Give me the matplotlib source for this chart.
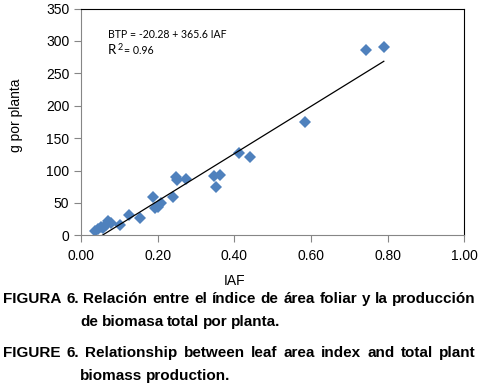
import numpy as np
import matplotlib.pyplot as plt

# datos
iaf = [0.037, 0.045, 0.052, 0.058, 0.065, 0.071, 0.077, 0.102, 0.124, 0.155,
       0.189, 0.193, 0.200, 0.208, 0.239, 0.247, 0.251, 0.273, 0.348, 0.352,
       0.362, 0.413, 0.441, 0.584, 0.743, 0.790]
btp = [6.7, 9.7, 13.4, 11.8, 16, 22, 18.6, 16, 31, 27,
       59, 42, 44, 49.5, 59, 90, 86, 87, 92, 75,
       93, 127, 121, 175, 286, 291]
intercept = -20.28
slope = 365.6
xticks = [0.0, 0.2, 0.4, 0.6, 0.8, 1.0]
yticks = [0, 50, 100, 150, 200, 250, 300, 350]

plt.rcParams['font.family'] = ['Liberation Sans', 'DejaVu Sans']

W, H = 478, 387
fig = plt.figure(figsize=(W/100, H/100), dpi=100)
ax = fig.add_axes([81/W, 1-235.3/H, (464.3-81)/W, (235.3-8.5)/H])

ax.plot(iaf, btp, 'D', color='#4F81BD', markersize=6.3, markeredgewidth=0)
x_line = np.array([-intercept/slope, max(iaf)])
ax.plot(x_line, intercept + slope*x_line, color='black', linewidth=0.9)

ax.set_xlim(0, 1)
ax.set_ylim(0, 350)
ax.set_xticks(xticks)
ax.set_xticklabels(["%.2f" % t for t in xticks])
ax.set_yticks(yticks)
ax.tick_params(labelsize=10, color='#868686', length=5, width=0.8)
ax.tick_params(axis='x', pad=5)
for s in ['left', 'bottom']:
    ax.spines[s].set_color('#868686')
for s in ['top', 'right']:
    ax.spines[s].set_color('black')

fig.text(16/W, 1-115.5/H, "g por planta", fontsize=10, rotation=90, ha='center', va='center')
fig.text(235/W, 1-281/H, "IAF", fontsize=10, ha='center', va='center')

fig.canvas.draw()
renderer = fig.canvas.get_renderer()

# ecuacion de la recta
fig.text(108/W, 1-34/H, "BTP = -20.28 + 365.6 IAF", fontsize=7.6, family='Lato', va='center')
r = fig.text(108/W, 1-50/H, "R", fontsize=9.5, family='Lato', va='center')
rw = r.get_window_extent(renderer).width
fig.text((109 + rw)/W, 1-47/H, "2", fontsize=6.5, family='Lato', va='center')
fig.text((116 + rw)/W, 1-51/H, "= 0.96", fontsize=7.6, family='Lato', va='center')


def caption_line(line, x0, x1, y, justify=True):
    words = line.split(" ")
    texts = [fig.text(0, 1-y/H, w, fontsize=11, fontweight='bold', va='center')
             for w in words]
    widths = [t.get_window_extent(renderer).width for t in texts]
    gap = 3.6
    if justify and len(words) > 1:
        gap = (x1 - x0 - sum(widths)) / (len(words) - 1)
    x = x0
    for t, w in zip(texts, widths):
        t.set_x(x/W)
        x += w + gap


caption_line("FIGURA 6. Relación entre el índice de área foliar y la producción", 3, 476, 299)
caption_line("de biomasa total por planta.", 80, 476, 322, justify=False)
caption_line("FIGURE 6. Relationship between leaf area index and total plant", 3, 476, 353)
caption_line("biomass production.", 80, 476, 376, justify=False)

fig.savefig("out.png", dpi=100)
